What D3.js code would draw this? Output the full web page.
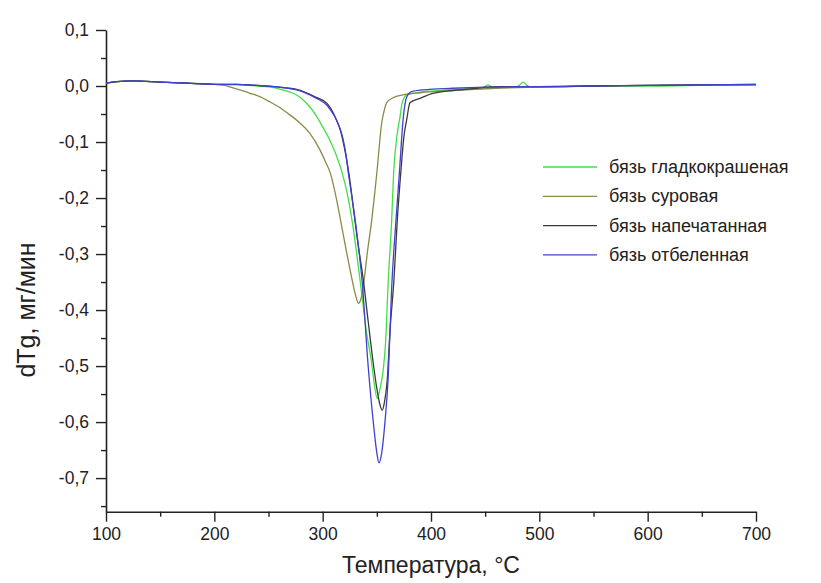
<!DOCTYPE html>
<html>
<head>
  <meta charset="utf-8">
  <title>dTg chart</title>
  <script src="https://d3js.org/d3.v7.min.js"></script>
  <style>
    body { margin: 0; background: #fff; }
    svg text { font-family: "Liberation Sans", Arial, sans-serif; fill: #222; }
  </style>
</head>
<body>
<div id="chart"></div>
<script>
// Series data: [temperature °C, dTg mg/min]
var basePts = [[100,0.005],[110,0.008],[125,0.009],[150,0.007],[175,0.005],[200,0.003]];

var greenPts = basePts.concat([[220,0.002],[240,0.0],[255,-0.003],[263,-0.007],[270,-0.011],[276,-0.016],
  [282,-0.025],[288,-0.037],[294,-0.053],[300,-0.073],[307,-0.098],[313,-0.126],[318,-0.155],[322,-0.186],
  [328,-0.251],[334.5,-0.346],[340.5,-0.44],[345.2,-0.495],[347.5,-0.53],[350.4,-0.558],[353,-0.54],
  [356,-0.505],[358,-0.46],[360.6,-0.346],[363.7,-0.239],[365.5,-0.155],[368.5,-0.09],[371.4,-0.055],
  [373.2,-0.032],[377.5,-0.016],[390,-0.011],[410,-0.008],[430,-0.005],[448,-0.003],[452.6,0.002],
  [457,-0.002],[478,-0.002],[482,0.002],[485,0.007],[488,0.002],[492,-0.002],[520,-0.001],[550,0.0],
  [600,0.0],[650,0.001],[700,0.001]]);

var olivePts = basePts.concat([[210,0.001],[215,-0.002],[225,-0.008],[233,-0.013],[242,-0.019],[251,-0.028],
  [260,-0.038],[270,-0.052],[279,-0.066],[288,-0.084],[297.5,-0.114],[303,-0.137],[307,-0.155],[313,-0.204],
  [317.6,-0.251],[322.2,-0.298],[326,-0.335],[328.5,-0.358],[331,-0.378],[333,-0.388],[335,-0.382],
  [337.5,-0.358],[341.2,-0.298],[345.3,-0.239],[350,-0.155],[354.5,-0.066],[357,-0.042],[359,-0.03],
  [365,-0.021],[374,-0.016],[390,-0.012],[420,-0.008],[460,-0.004],[500,-0.002],[550,0.0],[600,0.001],
  [650,0.002],[700,0.002]]);

var blackPts = basePts.concat([[220,0.003],[240,0.001],[260,-0.002],[276,-0.006],[285,-0.012],[294,-0.02],
  [304,-0.031],[309,-0.045],[313,-0.062],[316.5,-0.08],[319.5,-0.105],[322,-0.13],[324.5,-0.16],[328.5,-0.22],
  [332.5,-0.28],[337.5,-0.346],[342,-0.42],[346.7,-0.495],[350,-0.54],[353,-0.57],[355,-0.579],[357,-0.565],
  [359.6,-0.525],[362.2,-0.436],[365.8,-0.346],[368.9,-0.239],[372.3,-0.15],[375,-0.09],[377.5,-0.061],
  [380.6,-0.03],[389.8,-0.022],[401.8,-0.013],[426.8,-0.007],[463.7,-0.001],[500,-0.001],[550,0.0],
  [600,0.001],[650,0.002],[700,0.003]]);

var bluePts = basePts.concat([[220,0.003],[240,0.001],[260,-0.002],[276,-0.007],[285,-0.013],[294.4,-0.022],
  [303.7,-0.034],[308,-0.045],[312.9,-0.061],[316,-0.076],[319,-0.096],[321.5,-0.122],[323.7,-0.155],
  [326,-0.185],[329,-0.225],[332,-0.27],[336.5,-0.35],[342,-0.5],[347,-0.605],[350,-0.655],[352,-0.673],
  [354.5,-0.655],[357.5,-0.6],[360.5,-0.52],[363.7,-0.36],[367.7,-0.239],[371,-0.15],[374.2,-0.061],
  [377.5,-0.02],[382,-0.01],[392.6,-0.007],[420,-0.004],[450,-0.002],[500,-0.001],[550,0.0],[600,0.001],
  [650,0.002],[700,0.003]]);

var seriesNames = ["бязь гладкокрашеная", "бязь суровая", "бязь напечатанная", "бязь отбеленная"];
var seriesColors = ["#40e048", "#8c8a48", "#3a3a3a", "#4040d0"];
var seriesData = [greenPts, olivePts, blackPts, bluePts];

var xTicks = [100, 200, 300, 400, 500, 600, 700];
var xMinor = [150, 250, 350, 450, 550, 650];
var yTicks = [0.1, 0.0, -0.1, -0.2, -0.3, -0.4, -0.5, -0.6, -0.7];
var yMinor = [0.05, -0.05, -0.15, -0.25, -0.35, -0.45, -0.55, -0.65, -0.75];

var width = 821, height = 583;
var svg = d3.select("#chart").append("svg")
  .attr("width", width)
  .attr("height", height);

var x = d3.scaleLinear().domain([100, 700]).range([106, 756]);
var y = d3.scaleLinear().domain([-0.76, 0.1]).range([511.7, 30]);

function fmt(v) {
  var s = Math.abs(v).toFixed(1).replace(".", ",");
  return (v < -1e-9 ? "-" : "") + s;
}

// minor ticks
svg.append("g")
  .attr("transform", "translate(0,511.7)")
  .call(d3.axisBottom(x).tickValues(xMinor).tickSize(5).tickFormat(""))
  .call(function(g) { g.select(".domain").remove(); g.selectAll("line").attr("stroke-width", 1.4).attr("stroke", "#222"); });
svg.append("g")
  .attr("transform", "translate(106,0)")
  .call(d3.axisLeft(y).tickValues(yMinor).tickSize(5).tickFormat(""))
  .call(function(g) { g.select(".domain").remove(); g.selectAll("line").attr("stroke-width", 1.4).attr("stroke", "#222"); });

// x axis
var xAxis = svg.append("g")
  .attr("transform", "translate(0,511.7)")
  .call(d3.axisBottom(x).tickValues(xTicks).tickSize(10).tickSizeOuter(0).tickPadding(6).tickFormat(d3.format("d")));
xAxis.selectAll("text").style("font-size", "17.5px");

// y axis
var yAxis = svg.append("g")
  .attr("transform", "translate(106,0)")
  .call(d3.axisLeft(y).tickValues(yTicks).tickSize(10).tickSizeOuter(0).tickPadding(7).tickFormat(fmt));
yAxis.selectAll("text").style("font-size", "17.5px");

svg.selectAll(".domain").attr("stroke", "#222").attr("stroke-width", 1.6);
xAxis.selectAll(".tick line").attr("stroke", "#222").attr("stroke-width", 1.4);
yAxis.selectAll(".tick line").attr("stroke", "#222").attr("stroke-width", 1.4);

// axis titles
svg.append("text")
  .attr("x", 431)
  .attr("y", 573)
  .attr("text-anchor", "middle")
  .style("font-size", "23px")
  .text("Температура, °C");

svg.append("text")
  .attr("transform", "translate(35,310) rotate(-90)")
  .attr("text-anchor", "middle")
  .style("font-size", "25px")
  .text("dTg, мг/мин");

// curves
var line = d3.line()
  .x(function(d) { return x(d[0]); })
  .y(function(d) { return y(d[1]); })
  .curve(d3.curveMonotoneX);

seriesData.forEach(function(pts, i) {
  svg.append("path")
    .datum(pts)
    .attr("fill", "none")
    .attr("stroke", seriesColors[i])
    .attr("stroke-width", 1.3)
    .attr("d", line);
});

// legend
var legend = svg.append("g").attr("transform", "translate(543,167)");
seriesNames.forEach(function(name, i) {
  var row = legend.append("g").attr("transform", "translate(0," + (i * 29.3) + ")");
  row.append("line")
    .attr("x1", 0).attr("x2", 54)
    .attr("y1", 0).attr("y2", 0)
    .attr("stroke", seriesColors[i])
    .attr("stroke-width", 1.3);
  row.append("text")
    .attr("x", 66)
    .attr("y", 6)
    .style("font-size", "18px")
    .text(name);
});
</script>
</body>
</html>
